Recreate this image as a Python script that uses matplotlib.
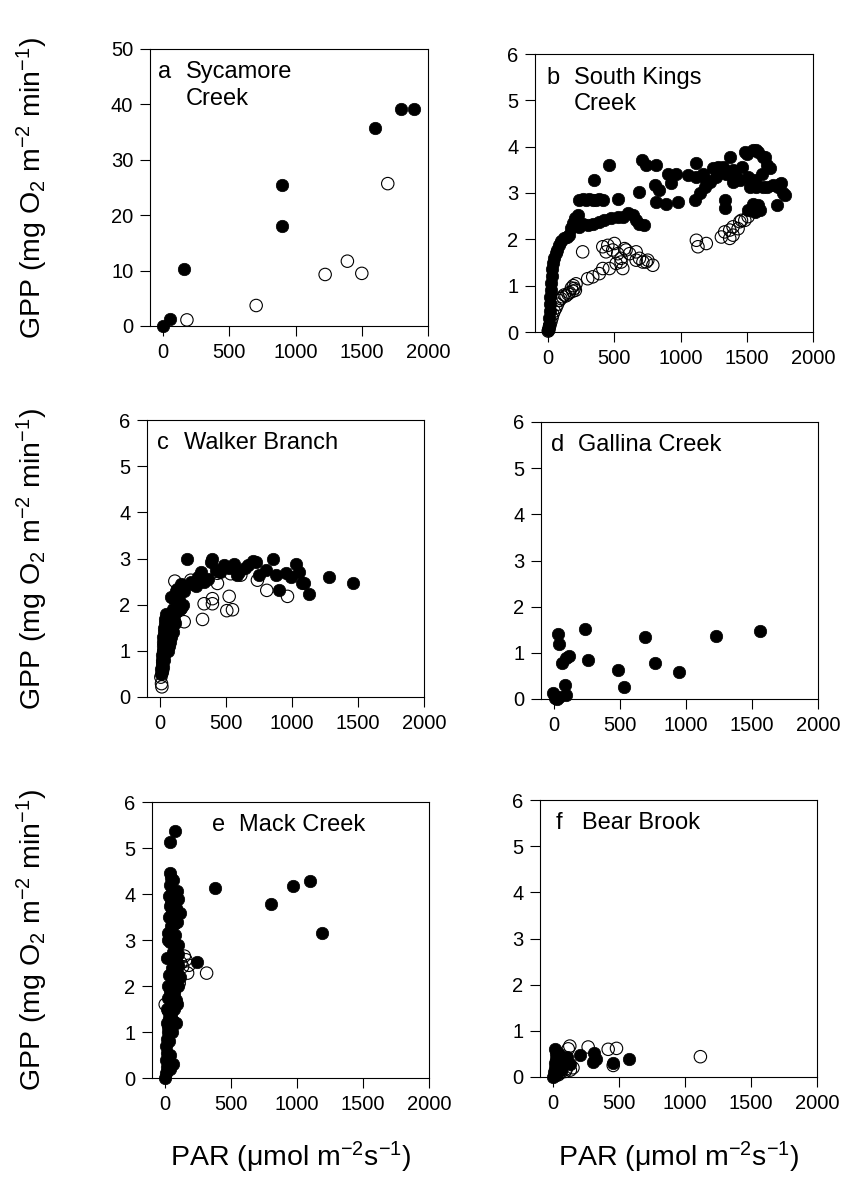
import matplotlib
matplotlib.use('Agg')
import matplotlib.pyplot as plt

plt.rcParams['font.family'] = ['Liberation Sans', 'DejaVu Sans']
plt.rcParams['mathtext.fontset'] = 'custom'
plt.rcParams['mathtext.rm'] = 'Liberation Sans'
plt.rcParams['mathtext.it'] = 'Liberation Sans:italic'
plt.rcParams['mathtext.default'] = 'regular'

# a  Sycamore Creek
syc_fill_par = [0, 48, 158, 898, 898, 1598, 1794, 1897]
syc_fill_gpp = [0.0, 1.2, 10.2, 25.5, 18.1, 35.8, 39.1, 39.1]
syc_open_par = [179, 702, 1223, 1391, 1500, 1696]
syc_open_gpp = [1.1, 3.7, 9.3, 11.7, 9.5, 25.7]

# b  South Kings Creek
skc_fill_par = [0, 5, 8, 10, 13, 15, 18, 20, 25, 30, 38, 45, 55, 65, 80, 100, 120, 140,
                160, 175, 185, 200, 210, 222,
                235, 260, 285, 310, 336, 360, 385, 412, 348, 462, 525,
                235, 260, 298, 336, 386, 424, 475, 525, 563, 601, 639, 664, 689, 720,
                689, 710, 740, 816, 803, 836, 816, 891, 904, 929, 967, 980, 1055, 1119,
                1106, 1169, 1182, 1144, 1220, 1245, 1283, 1321, 1346, 1333, 1333, 1371,
                1396, 1422, 1447, 1485, 1548, 1586, 1624, 1649, 1674, 1611, 1560, 1573,
                1649, 1699, 1737, 1762, 1788, 1725, 1510, 1523, 1548, 1586, 1510, 1560,
                1598, 1460, 1396, 1270, 1194, 1119, 1498, 1573, 1636, 1750, 1775, 1623]
skc_fill_gpp = [0.05, 0.15, 0.3, 0.45, 0.6, 0.75, 0.9, 1.05, 1.2, 1.35, 1.5, 1.6, 1.7, 1.78,
                1.88, 1.97, 2.02, 2.05, 2.1, 2.25, 2.35, 2.45, 2.38, 2.52,
                2.85, 2.86, 2.84, 2.86, 2.85, 2.84, 2.86, 2.85, 3.28, 3.60, 2.88,
                2.27, 2.34, 2.31, 2.34, 2.38, 2.41, 2.45, 2.49, 2.49, 2.56, 2.52, 2.41,
                2.34, 2.31,
                3.03, 3.71, 3.60, 3.60, 3.17, 3.06, 2.81, 2.77, 3.42, 3.21, 3.42, 2.81,
                3.39, 3.64, 2.85, 3.42, 3.13, 2.99, 3.24, 3.53, 3.57, 3.57, 3.42, 2.85,
                2.67, 3.78, 3.24, 3.35, 3.28, 3.89, 3.93, 3.89, 3.78, 3.60, 3.53, 3.42,
                3.28, 3.13, 3.13, 3.17, 3.13, 3.21, 2.95, 2.74, 3.35, 3.13, 2.77, 2.74,
                2.63, 2.59, 2.63, 3.57, 3.49, 3.35, 3.28, 3.35, 3.85, 3.92, 3.78, 3.20,
                2.99, 3.13]
skc_open_par = [0, 5, 8, 13, 20, 28, 35, 45, 58, 70, 83, 96, 109, 121, 134, 150, 160, 175,
                190, 205, 185, 298, 336, 386, 412, 462, 513, 563, 550, 487, 437, 412, 450,
                500, 525, 576, 588, 550, 614, 664, 664, 689, 715, 740, 752, 790, 260, 210,
                197, 1119, 1131, 1194, 1308, 1333, 1371, 1396, 1434, 1447, 1485, 1396,
                1371, 1510, 1460]
skc_open_gpp = [0.02, 0.05, 0.1, 0.15, 0.22, 0.3, 0.38, 0.45, 0.52, 0.6, 0.68, 0.72, 0.76,
                0.8, 0.78, 0.82, 0.85, 0.95, 1.0, 0.9, 0.88, 1.15, 1.19, 1.26, 1.37, 1.37,
                1.48, 1.37, 1.59, 1.77, 1.73, 1.84, 1.87, 1.91, 1.69, 1.80, 1.77, 1.51,
                1.69, 1.73, 1.55, 1.59, 1.51, 1.51, 1.55, 1.44, 1.73, 1.04, 0.94, 1.98,
                1.84, 1.91, 2.05, 2.16, 2.20, 2.27, 2.23, 2.38, 2.41, 2.09, 2.02, 2.49,
                2.41]

# c  Walker Branch
wb_fill_par = [5, 8, 10, 12, 15, 18, 20, 22, 25, 28, 30, 35, 40, 45, 50, 60, 70, 80, 90,
               100, 110, 120, 130, 81, 126, 157, 106, 100, 120, 140, 160, 180, 200, 232,
               250, 270, 290, 310, 330, 359, 384, 396, 485, 561, 586, 662, 725, 750, 853,
               876, 902, 952, 990, 1028, 1053, 1078, 1091, 1129, 1280, 1462, 420, 450,
               520, 600, 640, 700, 800,
               10, 20, 30, 40, 50, 60, 70, 55, 35, 45, 25, 15, 80, 90, 65, 75, 100, 85,
               140, 170, 150]
wb_fill_gpp = [0.5, 0.6, 0.7, 0.8, 0.9, 1.0, 1.1, 1.2, 1.3, 1.4, 1.5, 1.6, 1.7, 1.8, 1.2,
               1.0, 1.1, 1.3, 1.5, 1.4, 1.6, 1.85, 1.95, 2.17, 2.35, 1.92, 1.66, 2.15,
               2.3, 2.35, 2.45, 2.3, 2.98, 2.5, 2.45, 2.4, 2.6, 2.7, 2.5, 2.55, 2.93, 3.0,
               2.86, 2.89, 2.64, 2.86, 2.93, 2.64, 3.0, 2.64, 2.31, 2.68, 2.60, 2.89,
               2.71, 2.46, 2.47, 2.24, 2.59, 2.47, 2.75, 2.7, 2.8, 2.7, 2.8, 2.95, 2.75,
               0.55, 0.65, 0.8, 0.95, 1.05, 1.3, 1.45, 1.6, 1.25, 1.45, 1.0, 0.75, 1.7,
               1.8, 1.75, 1.2, 1.9, 1.55, 2.1, 2.0, 1.9]
wb_open_par = [13, 10, 5, 18, 30, 43, 56, 111, 182, 321, 333, 396, 396, 523, 505, 548, 808,
               965, 535, 737, 611, 434, 232, 434]
wb_open_gpp = [0.22, 0.29, 0.43, 0.58, 0.94, 1.37, 1.66, 2.51, 1.63, 1.68, 2.02, 2.02,
               2.13, 2.18, 1.87, 1.89, 2.31, 2.18, 2.67, 2.53, 2.64, 2.46, 2.53, 2.68]

# d  Gallina Creek
gc_fill_par = [30, 38, 56, 93, 114, 81, 86, -8, 5, 20, 40, 232, 258, 480, 528, 689, 763,
               947, 1225, 1558]
gc_fill_gpp = [1.41, 1.20, 0.78, 0.89, 0.94, 0.31, 0.09, 0.13, 0.02, 0.0, 0.05, 1.52, 0.85,
               0.63, 0.27, 1.35, 0.79, 0.58, 1.37, 1.48]

# e  Mack Creek
mc_fill_par = [0, 5, 10, 8, 12, 5, 15, 20, 25, 10, 30, 20, 40, 55, 25, 35, 45, 75, 60, 30,
               50, 70, 40, 60, 80, 35, 55, 25, 45, 70, 30, 55, 111, 40, 65, 30, 55, 86, 40,
               45, 40, 35, 76, 90, 95, 100, 380, 802, 972, 1101, 1190, 238,
               60, 40, 30, 50, 60, 45, 70, 85, 65, 90, 80, 95, 75, 90, 80, 95, 70, 60,
               20, 15, 20, 15, 100, 110, 85, 40, 25, 60, 45, 65]
mc_fill_gpp = [0.0, 0.1, 0.25, 0.4, 0.55, 0.7, 0.85, 1.0, 1.1, 1.2, 1.3, 1.45, 1.55, 1.6,
               1.75, 1.9, 2.0, 1.95, 2.1, 2.25, 2.4, 2.5, 2.6, 2.75, 2.85, 2.95, 3.05,
               3.15, 3.3, 3.35, 3.5, 3.6, 3.58, 3.75, 3.85, 3.95, 4.05, 4.07, 4.2, 4.35,
               4.45, 5.12, 5.37, 1.6, 2.0, 2.7, 4.12, 3.78, 4.17, 4.28, 3.16, 2.52,
               0.3, 0.5, 0.8, 1.0, 1.25, 1.4, 1.5, 1.7, 1.85, 2.3, 2.6, 2.9, 3.1, 3.4,
               3.7, 3.9, 4.0, 4.3, 3.0, 2.6, 2.0, 1.5, 2.45, 2.2, 1.2, 0.2, 0.45, 2.95,
               3.8, 3.45]
mc_open_par = [157, 170, 314, 132, 106, 180, 145, 120, 0, 90]
mc_open_gpp = [2.57, 2.28, 2.28, 2.42, 2.06, 2.45, 2.65, 2.5, 1.6, 2.2]

# f  Bear Brook
bb_fill_par = [0, 5, 10, 15, 20, 25, 30, 10, 35, 40, 50, 60, 20, 45, 30, 70, 80, 202, 311,
               328, 303, 455, 573, 126, 101]
bb_fill_gpp = [0.0, 0.1, 0.2, 0.3, 0.4, 0.5, 0.55, 0.6, 0.45, 0.35, 0.25, 0.15, 0.05, 0.5,
               0.3, 0.4, 0.3, 0.47, 0.51, 0.40, 0.32, 0.30, 0.39, 0.29, 0.43]
bb_open_par = [126, 114, 265, 417, 480, 455, 1116, 101, 130, 90, 150, 60, 40]
bb_open_gpp = [0.67, 0.61, 0.65, 0.60, 0.62, 0.25, 0.44, 0.18, 0.15, 0.12, 0.2, 0.1, 0.05]

panels = [
    ('a', 'Sycamore\nCreek', syc_fill_par, syc_fill_gpp, syc_open_par, syc_open_gpp, 50, 10),
    ('b', 'South Kings\nCreek', skc_fill_par, skc_fill_gpp, skc_open_par, skc_open_gpp, 6, 1),
    ('c', 'Walker Branch', wb_fill_par, wb_fill_gpp, wb_open_par, wb_open_gpp, 6, 1),
    ('d', 'Gallina Creek', gc_fill_par, gc_fill_gpp, [], [], 6, 1),
    ('e', 'Mack Creek', mc_fill_par, mc_fill_gpp, mc_open_par, mc_open_gpp, 6, 1),
    ('f', 'Bear Brook', bb_fill_par, bb_fill_gpp, bb_open_par, bb_open_gpp, 6, 1),
]

# axes boxes in pixels: left, top, right, bottom
W, H = 843, 1178
boxes = [(150, 49, 428, 326), (535, 54, 813, 332),
         (147, 420, 424, 697), (541, 422, 818, 699),
         (152, 802, 429, 1078), (540, 800, 817, 1077)]
# where the panel letter sits (axes fraction); Mack Creek label is pushed right
letter_x = [0.03, 0.042, 0.035, 0.035, 0.215, 0.055]

fig = plt.figure(figsize=(W / 100, H / 100), dpi=100)

for (letter, name, fx, fy, ox, oy, ymax, ystep), (l, t, r, b), lx in zip(panels, boxes, letter_x):
    ax = fig.add_axes([l / W, (H - b) / H, (r - l) / W, (b - t) / H])
    if len(ox):
        ax.scatter(ox, oy, s=80, facecolors='none', edgecolors='black',
                   linewidths=0.8, clip_on=False, zorder=2)
    ax.scatter(fx, fy, s=80, c='black', edgecolors='black', linewidths=0.5,
               clip_on=False, zorder=3)
    ax.set_xlim(-100, 2000)
    ax.set_ylim(0, ymax)
    ax.set_xticks(range(0, 2001, 500))
    ax.set_yticks(range(0, ymax + 1, ystep))
    ax.tick_params(direction='out', length=7, width=0.8, labelsize=14.5, pad=5)
    for sp in ax.spines.values():
        sp.set_linewidth(0.8)
    ax.text(lx, 0.955, letter, transform=ax.transAxes, fontsize=17, va='top')
    ax.text(lx + 0.098, 0.955, name, transform=ax.transAxes, fontsize=17, va='top',
            linespacing=1.25)

ylab = 'GPP (mg O$_2$ m$^{-2}$ min$^{-1}$)'
for t, b in [(49, 326), (420, 697), (802, 1078)]:
    fig.text(32 / W, 1 - (t + b) / 2 / H, ylab, rotation=90, fontsize=20.5,
             ha='center', va='center')

xlab = 'PAR ($\\mu$mol m$^{-2}$s$^{-1}$)'
for l, r in [(152, 429), (540, 817)]:
    fig.text((l + r) / 2 / W, 1 - 1157 / H, xlab, fontsize=20.5, ha='center', va='center')

fig.savefig('out.png', dpi=100)
